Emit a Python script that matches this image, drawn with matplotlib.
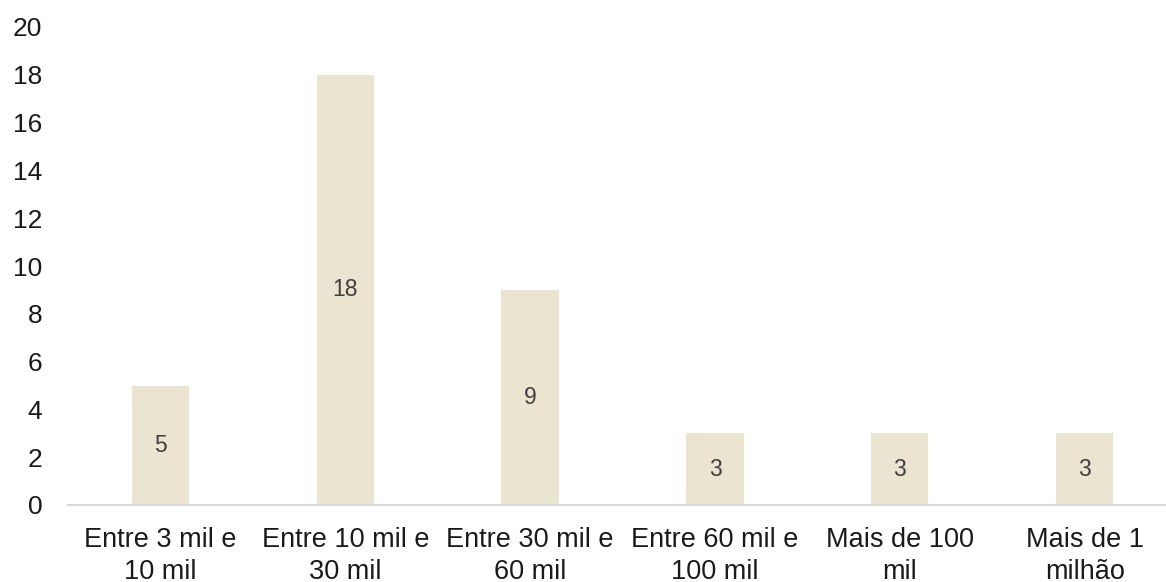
import matplotlib
matplotlib.use("Agg")
import matplotlib.pyplot as plt

categories = ["Entre 3 mil e\n10 mil", "Entre 10 mil e\n30 mil", "Entre 30 mil e\n60 mil",
              "Entre 60 mil e\n100 mil", "Mais de 100\nmil", "Mais de 1\nmilhão"]
values = [5, 18, 9, 3, 3, 3]
yticks = [0, 2, 4, 6, 8, 10, 12, 14, 16, 18, 20]

plt.rcParams['font.family'] = ['Liberation Sans', 'DejaVu Sans']

W, H = 1166, 582
fig = plt.figure(figsize=(W / 100, H / 100), dpi=100)
left = 68 / W
bottom = (H - 505) / H
top = 1 - 27 / H
ax = fig.add_axes([left, bottom, 1.0 - left, top - bottom])

x = list(range(len(categories)))
ax.bar(x, values, width=0.31, color="#EBE4D0", zorder=2)

for xi, v in zip(x, values):
    ax.text(xi, v / 2, str(v), ha="center", va="center", fontsize=16.5, color="#404040")

ax.set_ylim(0, 20)
ax.set_xlim(-0.5, 5.44)
ax.set_yticks(yticks)
ax.set_yticklabels([str(t) for t in yticks], fontsize=19, color="#1a1a1a")
ax.set_xticks(x)
ax.set_xticklabels(categories, fontsize=19.5, color="#1a1a1a", linespacing=1.3)
ax.tick_params(axis="both", length=0)
ax.tick_params(axis="y", pad=18.5)
ax.tick_params(axis="x", pad=16)

for side in ["top", "right", "left"]:
    ax.spines[side].set_visible(False)
ax.spines["bottom"].set_color("#D9D9D9")
ax.spines["bottom"].set_linewidth(1.5)

fig.savefig("out.png", dpi=100)
